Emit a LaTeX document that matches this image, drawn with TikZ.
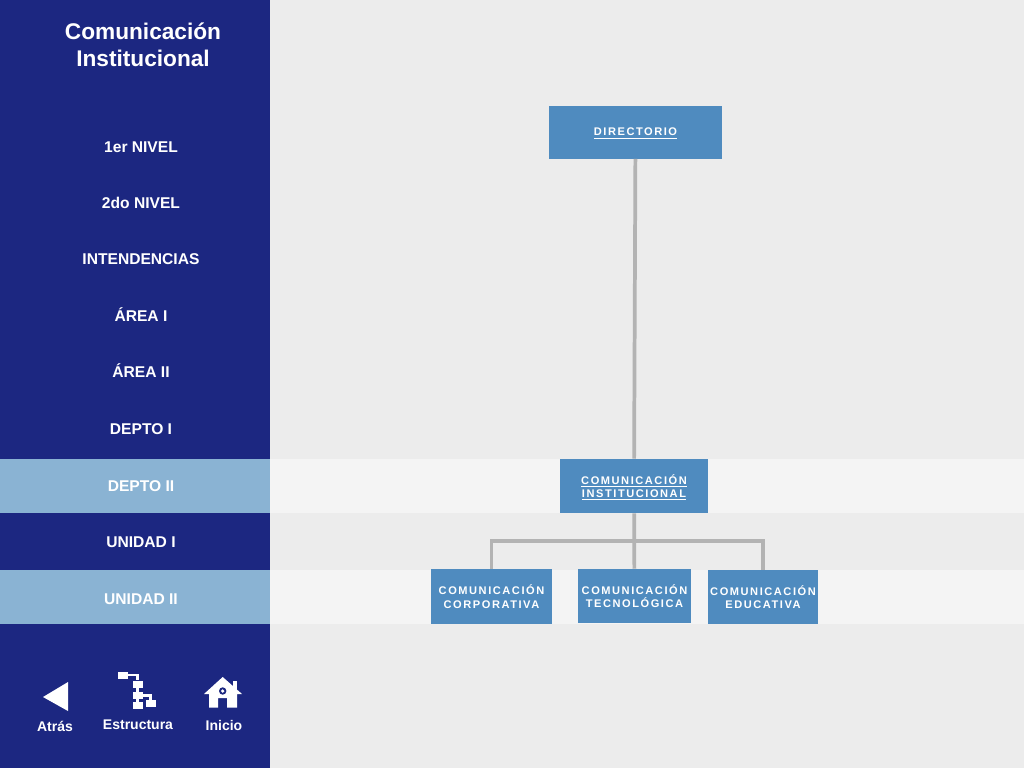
\documentclass[tikz,border=0pt]{standalone}
\usepackage{fontspec}
\setmainfont{Liberation Sans}
\newfontfamily\boxfont[LetterSpace=14]{Liberation Sans}
\usetikzlibrary{calc,positioning}
\definecolor{navy}{HTML}{1C2781}
\definecolor{paleblue}{HTML}{8AB3D3}
\definecolor{boxblue}{HTML}{4F8BBF}
\definecolor{pagegray}{HTML}{ECECEC}
\definecolor{bandgray}{HTML}{F4F4F4}
\definecolor{linegray}{HTML}{B3B3B3}
\def\px{0.75pt}
\tikzset{
  orgbox/.style={fill=boxblue, text=white, inner sep=0pt, align=center,
    font=\boxfont\bfseries\fontsize{8.3}{10.1}\selectfont},
  linkbox/.style={orgbox, text depth=0pt},
  menulabel/.style={text=white, inner sep=0pt, font=\bfseries\fontsize{11.7}{14}\selectfont},
  iconlabel/.style={menulabel, font=\bfseries\fontsize{10.5}{12}\selectfont},
  orgline/.style={draw=linegray, line width=2.8pt},
  iconbox/.style={fill=white, inner sep=0pt, minimum width=10*\px, minimum height=7*\px},
  iconline/.style={draw=white, line width=1.6pt}
}
\begin{document}
\begin{tikzpicture}[x=0.75pt, y=-0.75pt]
  \useasboundingbox (0,0) rectangle (1024,768);
  % background and bands
  \fill[pagegray] (0,0) rectangle (1024,768);
  \fill[navy] (0,0) rectangle (270,768);
  \fill[bandgray] (270,459) rectangle (1024,513);
  \fill[bandgray] (270,570) rectangle (1024,624);
  \fill[paleblue] (0,459) rectangle (270,513);
  \fill[paleblue] (0,570) rectangle (270,624);
  % title and menu
  \node (title) at (143,45) [text=white, inner sep=0pt, align=center,
    font=\bfseries\fontsize{17}{20.5}\selectfont] {Comunicación\\Institucional};
  \foreach \name/\ypos/\txt in {nivelA/147/1er NIVEL, nivelB/203/2do NIVEL,
    intend/259/INTENDENCIAS, areaA/316/ÁREA I, areaB/372/ÁREA II, deptoA/429/DEPTO I,
    deptoB/486/DEPTO II, unidadA/542/UNIDAD I, unidadB/599/UNIDAD II}
    \node (\name) at (141,\ypos) [menulabel, text height=8.4pt, text depth=0pt] {\txt};
  % org chart
  \node (directorio) at (635.5,132) [linkbox, minimum width=173*\px, minimum height=53*\px] {\underline{DIRECTORIO}};
  \node (institucional) at (634,486) [linkbox, minimum width=148*\px, minimum height=54*\px] {\underline{COMUNICACIÓN}\\\underline{INSTITUCIONAL}};
  \node (corporativa) at (491.5,596.5) [orgbox, minimum width=121*\px, minimum height=55*\px] {COMUNICACIÓN\\CORPORATIVA};
  \node (tecnologica) at (634.5,596) [orgbox, minimum width=113*\px, minimum height=54*\px] {COMUNICACIÓN\\TECNOLÓGICA};
  \node (educativa) at (763,597) [orgbox, minimum width=110*\px, minimum height=54*\px] {COMUNICACIÓN\\EDUCATIVA};
  \coordinate (bus) at (634,541);
  \draw[orgline] (directorio) -- (institucional);
  \draw[orgline] (institucional) -- (tecnologica);
  \draw[orgline] (corporativa.north) |- (bus) -| (educativa.north);
  % bottom icons
  \fill[white] (43,697) -- (68,682) -- (68,711) -- cycle;
  \node (atras) at (55,726) [iconlabel] {Atrás};
  \node (boxA) at (123,675) [iconbox] {};
  \node (boxB) at (137.5,684) [iconbox] {};
  \node (boxC) at (137.5,695.5) [iconbox] {};
  \node (boxD) at (137.5,705.5) [iconbox] {};
  \node (boxE) at (150.5,703.5) [iconbox] {};
  \draw[iconline] (boxA) -| (boxB);
  \draw[iconline] (boxB) -- (boxC) -- (boxD);
  \draw[iconline] (boxC) -| (boxE);
  \node (estructura) at (138,725) [iconlabel] {Estructura};
  \fill[white] (233,681) rectangle (237,690);
  \fill[white] (222.7,677) -- (242,694) -- (237,694) -- (237,707.5) -- (227,707.5) -- (227,698)
    -- (218,698) -- (218,707.5) -- (209,707.5) -- (209,694) -- (204,694) -- cycle;
  \fill[navy] (222.7,691) circle (3.7);
  \fill[white] (222.7,691) circle (1.8);
  \node (inicio) at (224,725.5) [iconlabel] {Inicio};
\end{tikzpicture}
\end{document}
